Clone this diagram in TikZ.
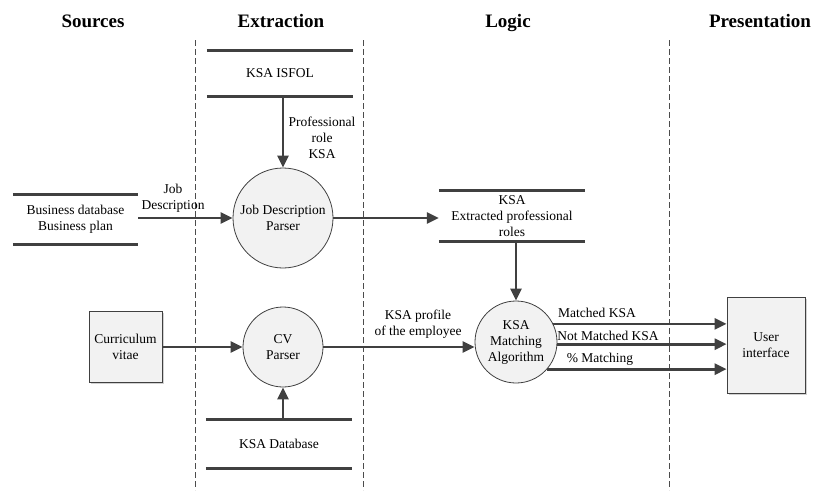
\documentclass[tikz,border=0pt]{standalone}
\usepackage{fontspec}
\setmainfont{Liberation Serif}
\usetikzlibrary{arrows.meta,shadows}
\definecolor{ln}{HTML}{404040}
\definecolor{fl}{HTML}{F2F2F2}
\tikzset{
  txt/.style={font=\fontsize{13.5}{16}\selectfont, align=center, inner sep=0pt},
  head/.style={font=\fontsize{19}{22}\selectfont\bfseries, inner sep=0pt, anchor=base},
  proc/.style={txt, circle, draw=ln, line width=0.8pt, fill=fl},
  ext/.style={txt, rectangle, draw=ln, line width=0.8pt, fill=fl,
    drop shadow={shadow xshift=1.5pt, shadow yshift=-1.5pt, fill=black!30, opacity=0.6}},
  store/.style={txt, rectangle, draw=none},
  bar/.style={draw=ln, line width=2.7pt},
  flow/.style={draw=ln, line width=2.7pt, -{Triangle[length=12pt,width=11pt]}},
  lane/.style={draw=black!70, line width=0.6pt, dash pattern=on 6pt off 3pt},
}
\begin{document}
\begin{tikzpicture}[x=1pt,y=-1pt]
\useasboundingbox (0,0) rectangle (813,490);
% lanes
\coordinate (l1t) at (195,40); \coordinate (l1b) at (195,490);
\coordinate (l2t) at (363,40); \coordinate (l2b) at (363,490);
\coordinate (l3t) at (669,40); \coordinate (l3b) at (669,490);
\draw[lane] (l1t) -- (l1b);
\draw[lane] (l2t) -- (l2b);
\draw[lane] (l3t) -- (l3b);
% headings
\node[head] (hs) at (93,27) {Sources};
\node[head] (he) at (281,27) {Extraction};
\node[head] (hl) at (508,27) {Logic};
\node[head] (hp) at (760,27) {Presentation};
% data stores
\node[store, minimum width=146pt, minimum height=45pt] (isfol) at (280,73.5) {KSA ISFOL};
\draw[bar] (isfol.north west) -- (isfol.north east);
\draw[bar] (isfol.south west) -- (isfol.south east);
\node[store, minimum width=125pt, minimum height=49pt] (bdb) at (75.5,219.5) {Business database\\Business plan};
\draw[bar] (bdb.north west) -- (bdb.north east);
\draw[bar] (bdb.south west) -- (bdb.south east);
\node[store, minimum width=146pt, minimum height=50pt] (ksa) at (512,216) {KSA\\Extracted professional\\roles};
\draw[bar] (ksa.north west) -- (ksa.north east);
\draw[bar] (ksa.south west) -- (ksa.south east);
\node[store, minimum width=146pt, minimum height=48pt] (kdb) at (279,444) {KSA Database};
\draw[bar] (kdb.north west) -- (kdb.north east);
\draw[bar] (kdb.south west) -- (kdb.south east);
% processes
\node[proc, minimum size=100pt] (jdp) at (283,218) {Job Description\\Parser};
\node[proc, minimum size=80pt] (cvp) at (283,347) {CV\\Parser};
\node[proc, minimum size=82pt] (match) at (516,342) {KSA\\Matching\\Algorithm};
% externals
\node[ext, minimum width=73pt, minimum height=71pt] (cv) at (125.5,346.5) {Curriculum\\vitae};
\node[ext, minimum width=78pt, minimum height=96pt] (ui) at (766,345) {User\\interface};
% flows
\draw[flow] (isfol.south -| jdp.north) -- (jdp.north);
\draw[flow] (bdb.east |- jdp.west) -- (jdp.west);
\draw[flow] (jdp.east) -- (jdp.east -| ksa.west);
\draw[flow] (ksa.south -| match.north) -- (match.north);
\draw[flow] (cv.east |- cvp.west) -- (cvp.west);
\draw[flow] (kdb.north -| cvp.south) -- (cvp.south);
\draw[flow] (cvp.east) -- (cvp.east -| match.west);
\draw[flow] (match.26) -- (match.26 -| ui.west);
\draw[flow] (match.-3) -- (match.-3 -| ui.west);
\draw[flow] (match.-41) -- (match.-41 -| ui.west);
% labels
\node[txt] (lj) at (173,198) {Job\\Description};
\node[txt] (lp) at (322,138) {Professional\\role\\KSA};
\node[txt] (lk) at (418,324) {KSA profile\\of the employee};
\node[txt] (lm) at (597,313) {Matched KSA};
\node[txt] (ln1) at (608,336) {Not Matched KSA};
\node[txt] (lpc) at (600,359) {\% Matching};
\end{tikzpicture}
\end{document}
